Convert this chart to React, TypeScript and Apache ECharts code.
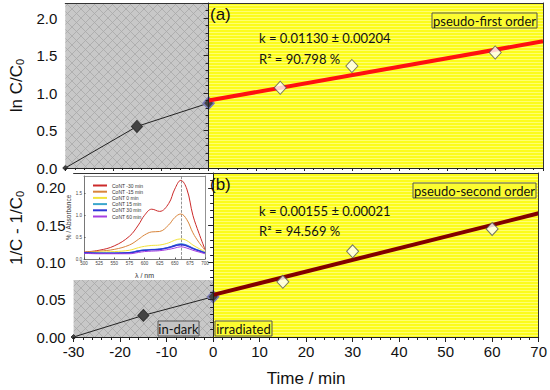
import React, { useEffect, useRef } from "react";
import * as echarts from "echarts";

// ---- data ----
const timeDark = [-30, -15, 0];
const timeIrr = [15, 30, 60];
const fitTime = [0, 70];

const lnDark = [0, 0.554, 0.865];
const lnIrr = [1.07, 1.36, 1.54];
const lnFit = [0.9, 1.69];

const invDark = [0, 0.029, 0.054];
const invIrr = [0.074, 0.115, 0.145];
const invFit = [0.0565, 0.166];

const wavelengths = [500, 525, 550, 575, 590, 600, 612, 625, 640, 650, 660, 670, 680, 690, 700];
const specNames = ["CoNT -30 min", "CoNT -15 min", "CoNT 0 min", "CoNT 15 min", "CoNT 30 min", "CoNT 60 min"];
const specM30 = [0.16, 0.2, 0.3, 0.52, 0.78, 1.0, 1.14, 1.09, 1.27, 1.6, 1.8, 1.6, 1.0, 0.59, 0.22];
const specM15 = [0.15, 0.18, 0.22, 0.32, 0.45, 0.55, 0.62, 0.63, 0.78, 0.95, 1.03, 0.9, 0.6, 0.38, 0.2];
const spec0 = [0.15, 0.16, 0.17, 0.2, 0.26, 0.29, 0.31, 0.32, 0.37, 0.43, 0.46, 0.42, 0.32, 0.24, 0.17];
const spec15 = [0.14, 0.14, 0.14, 0.15, 0.19, 0.21, 0.22, 0.23, 0.27, 0.32, 0.35, 0.32, 0.25, 0.2, 0.15];
const spec30 = [0.14, 0.13, 0.13, 0.14, 0.18, 0.2, 0.21, 0.22, 0.26, 0.3, 0.33, 0.3, 0.24, 0.19, 0.14];
const spec60 = [0.13, 0.12, 0.12, 0.12, 0.15, 0.17, 0.18, 0.19, 0.22, 0.25, 0.28, 0.25, 0.2, 0.16, 0.12];
const specColors = ["#cc2a2a", "#d9853b", "#f2e33a", "#3aa6cc", "#2e36d6", "#a63ee0"];
const peakWavelength = 660;

const pair = (xs: number[], ys: number[]) => xs.map((x, i) => [x, ys[i]]);

function makeGreyPattern() {
  const c = document.createElement("canvas");
  c.width = 9;
  c.height = 9;
  const g = c.getContext("2d")!;
  g.fillStyle = "#c8c8c8";
  g.fillRect(0, 0, 9, 9);
  g.strokeStyle = "#a8a8a8";
  g.lineWidth = 0.8;
  g.beginPath();
  g.moveTo(0, 0);
  g.lineTo(9, 9);
  g.moveTo(9, 0);
  g.lineTo(0, 9);
  g.stroke();
  return { image: c.toDataURL(), imageWidth: 9, imageHeight: 9, repeat: "repeat" };
}

function makeYellowPattern() {
  const c = document.createElement("canvas");
  c.width = 4;
  c.height = 3;
  const g = c.getContext("2d")!;
  g.fillStyle = "#fcfc1c";
  g.fillRect(0, 0, 4, 3);
  g.fillStyle = "#ffff70";
  g.fillRect(0, 2, 4, 1);
  return { image: c.toDataURL(), imageWidth: 4, imageHeight: 3, repeat: "repeat" };
}

const FONT = "'Liberation Sans', Arial, sans-serif";
const NOTE = "Lato, 'Open Sans', sans-serif";

export default function App() {
  const ref = useRef<HTMLDivElement>(null);
  useEffect(() => {
    if (!ref.current) return;
    const chart = echarts.init(ref.current, undefined, { renderer: "svg" });
    const grey = makeGreyPattern();
    const yellow = makeYellowPattern();

    const mainX = (gridIndex: number, showLabels: boolean) => ({
      type: "value",
      gridIndex,
      min: -30,
      max: 70,
      interval: 10,
      z: 6,
      axisLine: { show: true, lineStyle: { color: "#222", width: 1 } },
      axisTick: { show: true, length: showLabels ? 5 : 3, lineStyle: { color: "#222" } },
      minorTick: { show: true, splitNumber: 5, length: showLabels ? 3 : 2, lineStyle: { color: "#222" } },
      splitLine: { show: false },
      axisLabel: {
        show: showLabels,
        fontFamily: FONT,
        fontSize: 15,
        color: "#111",
        margin: 7,
      },
      ...(showLabels
        ? {
            name: "Time / min",
            nameLocation: "middle",
            nameGap: 33,
            nameTextStyle: { fontFamily: FONT, fontSize: 17, color: "#111" },
          }
        : {}),
    });

    const frameAxis = (kind: "x" | "y", gridIndex: number) => ({
      type: "value",
      gridIndex,
      position: kind === "x" ? "top" : "right",
      z: 6,
      axisLine: { show: true, onZero: false, lineStyle: { color: "#333", width: 1 } },
      axisTick: { show: false },
      axisLabel: { show: false },
      splitLine: { show: false },
    });

    const darkItems = (ys: number[]) =>
      pair(timeDark, ys).map((d, i) => ({
        value: d,
        symbolSize: i === 0 ? [5, 5] : [11, 12],
        itemStyle: i === 2 ? { borderColor: "#7a7ab8", borderWidth: 1.5 } : undefined,
      }));

    const option: any = {
      animation: false,
      backgroundColor: "#ffffff",
      grid: [
        { left: 63, top: 3, width: 480, height: 165 },
        { left: 63, top: 173, width: 480, height: 164 },
        { left: 84, top: 176, width: 121, height: 83 },
      ],
      xAxis: [
        mainX(0, false),
        frameAxis("x", 0),
        mainX(1, true),
        frameAxis("x", 1),
        {
          type: "value",
          gridIndex: 2,
          min: 500,
          max: 700,
          interval: 25,
          z: 6,
          axisLine: { show: true, lineStyle: { color: "#555", width: 0.8 } },
          axisTick: { show: true, length: 1.5, inside: true, lineStyle: { color: "#555" } },
          splitLine: { show: false },
          axisLabel: { fontSize: 4.5, color: "#444", margin: 2, fontFamily: FONT },
          name: "λ / nm",
          nameLocation: "middle",
          nameGap: 13,
          nameTextStyle: { fontSize: 7, color: "#333", fontFamily: FONT },
        },
        {
          type: "value",
          gridIndex: 2,
          position: "top",
          z: 6,
          axisLine: { show: true, onZero: false, lineStyle: { color: "#777", width: 0.8 } },
          axisTick: { show: false },
          axisLabel: { show: false },
          splitLine: { show: false },
        },
      ],
      yAxis: [
        {
          type: "value",
          gridIndex: 0,
          min: 0,
          max: 2.2,
          interval: 0.5,
          z: 6,
          axisLine: { show: true, lineStyle: { color: "#222" } },
          axisTick: { show: true, length: 5, lineStyle: { color: "#222" } },
          minorTick: { show: true, splitNumber: 5, length: 3, lineStyle: { color: "#222" } },
          splitLine: { show: false },
          axisLabel: {
            fontFamily: FONT,
            fontSize: 15,
            color: "#111",
            margin: 8,
            showMaxLabel: false,
            formatter: (v: number) => v.toFixed(1),
          },
          name: "{a|ln C/C}{b|0}",
          nameLocation: "middle",
          nameGap: 38,
          nameRotate: 90,
          nameTextStyle: {
            rich: {
              a: { fontFamily: FONT, fontSize: 17, color: "#111" },
              b: { fontFamily: FONT, fontSize: 11, color: "#111", verticalAlign: "bottom", padding: [7, 0, 0, 0] },
            },
          },
        },
        frameAxis("y", 0),
        {
          type: "value",
          gridIndex: 1,
          min: 0,
          max: 0.22,
          interval: 0.05,
          z: 6,
          axisLine: { show: true, lineStyle: { color: "#222" } },
          axisTick: { show: true, length: 5, lineStyle: { color: "#222" } },
          minorTick: { show: true, splitNumber: 5, length: 3, lineStyle: { color: "#222" } },
          splitLine: { show: false },
          axisLabel: {
            fontFamily: FONT,
            fontSize: 15,
            color: "#111",
            margin: 8,
            showMaxLabel: false,
            formatter: (v: number) => v.toFixed(2),
          },
          name: "{a|1/C - 1/C}{b|0}",
          nameLocation: "middle",
          nameGap: 38,
          nameRotate: 90,
          nameTextStyle: {
            padding: [0, 0, 0, 54],
            rich: {
              a: { fontFamily: FONT, fontSize: 17, color: "#111" },
              b: { fontFamily: FONT, fontSize: 11, color: "#111", verticalAlign: "bottom", padding: [7, 0, 0, 0] },
            },
          },
        },
        frameAxis("y", 1),
        {
          type: "value",
          gridIndex: 2,
          min: 0,
          max: 1.9,
          interval: 0.5,
          z: 6,
          axisLine: { show: true, lineStyle: { color: "#555", width: 0.8 } },
          axisTick: { show: true, length: 1.5, inside: true, lineStyle: { color: "#555" } },
          splitLine: { show: false },
          axisLabel: {
            fontSize: 4.5,
            color: "#444",
            margin: 2,
            fontFamily: FONT,
            showMaxLabel: false,
            formatter: (v: number) => v.toFixed(1),
          },
          name: "% / Absorbance",
          nameLocation: "middle",
          nameGap: 10,
          nameTextStyle: { fontSize: 6.5, color: "#333", fontFamily: FONT },
        },
        {
          type: "value",
          gridIndex: 2,
          position: "right",
          z: 6,
          axisLine: { show: true, onZero: false, lineStyle: { color: "#777", width: 0.8 } },
          axisTick: { show: false },
          axisLabel: { show: false },
          splitLine: { show: false },
        },
      ],
      legend: {
        data: specNames,
        orient: "vertical",
        left: 88,
        top: 178,
        itemWidth: 14,
        itemHeight: 2,
        itemGap: 1.2,
        icon: "rect",
        textStyle: { fontSize: 5, color: "#333", fontFamily: FONT },
      },
      series: [
        // ---- panel (a) ----
        {
          type: "line",
          xAxisIndex: 0,
          yAxisIndex: 0,
          z: 3,
          data: darkItems(lnDark),
          symbol: "diamond",
          itemStyle: { color: "#444", borderColor: "#333", borderWidth: 1 },
          lineStyle: { color: "#222", width: 1 },
          markArea: {
            silent: true,
            data: [
              [{ xAxis: -30, itemStyle: { color: grey } }, { xAxis: 0 }],
              [{ xAxis: 0, itemStyle: { color: yellow } }, { xAxis: 70 }],
            ],
          },
        },
        {
          type: "line",
          xAxisIndex: 0,
          yAxisIndex: 0,
          z: 4,
          data: pair(fitTime, lnFit),
          symbol: "none",
          lineStyle: { color: "#ff1010", width: 4 },
        },
        {
          type: "scatter",
          xAxisIndex: 0,
          yAxisIndex: 0,
          z: 5,
          data: pair(timeIrr, lnIrr),
          symbol: "diamond",
          symbolSize: [12, 13],
          itemStyle: { color: "#ffffff", borderColor: "#555", borderWidth: 1 },
        },
        // ---- panel (b) ----
        {
          type: "line",
          xAxisIndex: 2,
          yAxisIndex: 2,
          z: 3,
          data: darkItems(invDark),
          symbol: "diamond",
          itemStyle: { color: "#444", borderColor: "#333", borderWidth: 1 },
          lineStyle: { color: "#222", width: 1 },
          markArea: {
            silent: true,
            data: [
              [{ xAxis: -30, yAxis: 0, itemStyle: { color: grey } }, { xAxis: 0, yAxis: 0.0766 }],
              [{ xAxis: 0, yAxis: 0, itemStyle: { color: yellow } }, { xAxis: 70, yAxis: 0.22 }],
            ],
          },
        },
        {
          type: "line",
          xAxisIndex: 2,
          yAxisIndex: 2,
          z: 4,
          data: pair(fitTime, invFit),
          symbol: "none",
          lineStyle: { color: "#820000", width: 4 },
        },
        {
          type: "scatter",
          xAxisIndex: 2,
          yAxisIndex: 2,
          z: 5,
          data: pair(timeIrr, invIrr),
          symbol: "diamond",
          symbolSize: [12, 13],
          itemStyle: { color: "#ffffff", borderColor: "#555", borderWidth: 1 },
        },
        // ---- inset spectra ----
        ...[specM30, specM15, spec0, spec15, spec30, spec60].map((vals, i) => ({
          type: "line",
          name: specNames[i],
          xAxisIndex: 4,
          yAxisIndex: 4,
          z: 6,
          smooth: 0.4,
          symbol: "none",
          data: pair(wavelengths, vals),
          color: specColors[i],
          lineStyle: { color: specColors[i], width: i === 4 ? 1.6 : 1 },
          ...(i === 0
            ? {
                markLine: {
                  silent: true,
                  symbol: "none",
                  label: { show: false },
                  lineStyle: { color: "#666", type: "dashed", width: 0.7 },
                  data: [{ xAxis: peakWavelength }],
                },
              }
            : {}),
        })),
      ],
      graphic: [
        { type: "text", left: 210, top: 6, z: 20, style: { text: "(a)", font: `17px ${FONT}`, fill: "#111" } },
        {
          type: "text",
          left: 259,
          top: 31,
          z: 20,
          style: { text: "k = 0.01130 ± 0.00204", font: `13px ${NOTE}`, fill: "#111" },
        },
        {
          type: "text",
          left: 259,
          top: 52,
          z: 20,
          style: { text: "R² = 90.798 %", font: `13px ${NOTE}`, fill: "#111" },
        },
        {
          type: "rect",
          z: 20,
          shape: { x: 432, y: 13, width: 105, height: 15 },
          style: { fill: "#fcfc30", stroke: "#555", lineWidth: 1 },
        },
        {
          type: "text",
          z: 21,
          x: 484.5,
          y: 20.5,
          style: { text: "pseudo-first order", font: `13px ${NOTE}`, fill: "#111", align: "center", verticalAlign: "middle" },
        },
        { type: "text", left: 210, top: 176, z: 20, style: { text: "(b)", font: `17px ${FONT}`, fill: "#111" } },
        {
          type: "text",
          left: 259,
          top: 204,
          z: 20,
          style: { text: "k = 0.00155 ± 0.00021", font: `13px ${NOTE}`, fill: "#111" },
        },
        {
          type: "text",
          left: 259,
          top: 224,
          z: 20,
          style: { text: "R² = 94.569 %", font: `13px ${NOTE}`, fill: "#111" },
        },
        {
          type: "rect",
          z: 20,
          shape: { x: 413, y: 183, width: 123, height: 15 },
          style: { fill: "#fcfc30", stroke: "#555", lineWidth: 1 },
        },
        {
          type: "text",
          z: 21,
          x: 474.5,
          y: 190.5,
          style: { text: "pseudo-second order", font: `13px ${NOTE}`, fill: "#111", align: "center", verticalAlign: "middle" },
        },
        {
          type: "rect",
          z: 20,
          shape: { x: 158, y: 321, width: 41, height: 15 },
          style: { fill: "#c4c4c4", stroke: "#555", lineWidth: 1 },
        },
        {
          type: "text",
          z: 21,
          x: 178.5,
          y: 328.5,
          style: { text: "in-dark", font: `13px ${NOTE}`, fill: "#111", align: "center", verticalAlign: "middle" },
        },
        {
          type: "rect",
          z: 20,
          shape: { x: 215, y: 321, width: 57, height: 15 },
          style: { fill: "#fcfc30", stroke: "#555", lineWidth: 1 },
        },
        {
          type: "text",
          z: 21,
          x: 243.5,
          y: 328.5,
          style: { text: "irradiated", font: `13px ${NOTE}`, fill: "#111", align: "center", verticalAlign: "middle" },
        },
      ],
    };
    chart.setOption(option);
    return () => chart.dispose();
  }, []);
  return (
    <div
      ref={ref}
      style={{ position: "absolute", left: 0, top: 0, width: 550, height: 390 }}
    />
  );
}
